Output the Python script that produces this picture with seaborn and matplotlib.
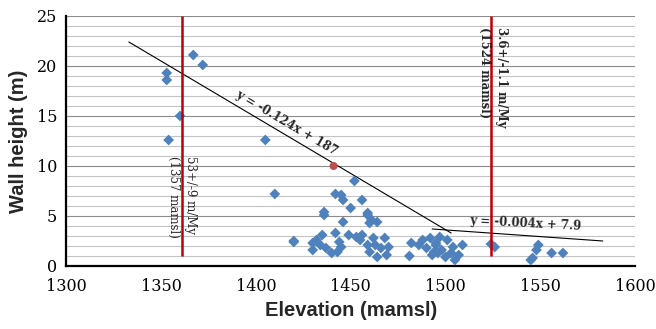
"""Wall height vs elevation scatter, with hand drawn trend lines."""

import matplotlib
matplotlib.use("Agg")
import matplotlib.pyplot as plt
import numpy as np
import pandas as pd
import seaborn as sns

# wall height measurements (elevation in mamsl, height in m)
elevation = [
    1353, 1353, 1367, 1372, 1360, 1354, 1405, 1410, 1420,
    1452, 1442, 1445, 1446, 1456, 1450, 1436, 1436, 1446, 1459,
    1420, 1435, 1432, 1430, 1430, 1434, 1442, 1444, 1449, 1453, 1455,
    1440, 1445, 1443, 1437,
    1459, 1461, 1464, 1460, 1456, 1462, 1468, 1459, 1463, 1466, 1470,
    1469, 1460, 1464, 1481, 1482, 1488, 1492, 1490, 1495, 1496, 1493, 1486,
    1497, 1501, 1495, 1504, 1509, 1498, 1503, 1507, 1505, 1500, 1494,
    1524, 1526, 1549, 1548, 1546, 1545, 1556, 1562,
]
wall_height = [
    19.3, 18.6, 21.1, 20.1, 15.0, 12.6, 12.6, 7.2, 2.4,
    8.5, 7.2, 7.1, 6.6, 6.6, 5.8, 5.4, 5.1, 4.4, 5.3,
    2.5, 3.1, 2.6, 2.3, 1.6, 2.1, 3.3, 2.4, 3.1, 2.9, 2.6,
    1.3, 1.9, 1.4, 1.8,
    5.1, 4.6, 4.4, 4.3, 3.1, 2.8, 2.8, 2.1, 2.1, 1.8, 1.9,
    1.1, 1.4, 0.9, 1.0, 2.3, 2.6, 2.8, 1.8, 2.1, 1.3, 1.1, 2.1,
    2.9, 2.6, 2.3, 1.9, 2.1, 1.6, 1.3, 1.1, 0.6, 0.9, 1.4,
    2.2, 1.9, 2.1, 1.6, 0.8, 0.6, 1.3, 1.3,
]

# highlighted point
red_x = [1441]
red_y = [10.0]

# trend lines as drawn on the original figure
trend1_x = [1333, 1503]
trend1_y = [22.4, 3.3]
trend2_x = [1493, 1583]
trend2_y = [3.7, 2.5]

# vertical markers
marker_x = [1361, 1524]

df = pd.DataFrame({"Elevation": elevation, "Height": wall_height})

sns.set_style("white")
plt.rcParams["font.family"] = ["DejaVu Serif"]

fig = plt.figure(figsize=(6.56, 3.29), dpi=100)
ax = fig.add_axes([0.101, 0.1915, 0.867, 0.76])

ax.set_xlim(1300, 1600)
ax.set_ylim(0, 25)
ax.set_xticks(np.arange(1300, 1601, 50))
ax.set_yticks(np.arange(0, 26, 5))
ax.set_yticks(np.arange(0, 26, 1), minor=True)
ax.grid(which="minor", axis="y", color="#c4c4c4", lw=0.8)
ax.grid(which="major", axis="y", color="#8c8c8c", lw=0.8)
ax.grid(False, axis="x")
ax.set_axisbelow(True)

for side in ["top", "right"]:
    ax.spines[side].set_visible(False)
for side in ["left", "bottom"]:
    ax.spines[side].set_color("black")
    ax.spines[side].set_linewidth(1.6)

ax.tick_params(axis="both", which="major", direction="out", length=3,
               width=1, colors="black", labelsize=11.5)
ax.tick_params(axis="y", which="minor", length=0)
ax.tick_params(axis="x", pad=6)

sns.scatterplot(data=df, x="Elevation", y="Height", marker="D", s=30,
                color="#4f81bd", edgecolor="none", ax=ax, zorder=3)
sns.scatterplot(x=red_x, y=red_y, marker="o", s=34, color="#c0504d",
                edgecolor="none", ax=ax, zorder=4)

sns.lineplot(x=trend1_x, y=trend1_y, color="black", lw=0.8, ax=ax,
             estimator=None, sort=False, zorder=2)
sns.lineplot(x=trend2_x, y=trend2_y, color="black", lw=0.8, ax=ax,
             estimator=None, sort=False, zorder=2)

ax.vlines(marker_x, 1, 25, color="#c00000", lw=1.8, zorder=5)

ax.text(1416, 14.3, "y = -0.124x + 187", rotation=-30.5,
        rotation_mode="anchor", ha="center", va="center",
        fontsize=8.5, fontweight="bold")
ax.text(1542, 4.3, "y = -0.004x + 7.9", rotation=-3,
        rotation_mode="anchor", ha="center", va="center",
        fontsize=8.5, fontweight="bold")
ax.text(1361, 11.0, "53+/-9 m/My\n(1357 mamsl)", rotation=270,
        ha="center", va="top", fontsize=8.5, linespacing=1.45,
        multialignment="left", zorder=6)
ax.text(1525, 23.9, "3.6+/-1.1 m/My\n(1524 mamsl)", rotation=270,
        ha="center", va="top", fontsize=8.5, fontweight="bold",
        linespacing=1.45, multialignment="left", zorder=6)

ax.set_xlabel("Elevation (mamsl)", family="Liberation Sans",
              fontweight="bold", fontsize=14.5, labelpad=4)
ax.set_ylabel("Wall height (m)", family="Liberation Sans",
              fontweight="bold", fontsize=14.5, labelpad=6)

fig.savefig("out.png", dpi=100)
plt.close(fig)
